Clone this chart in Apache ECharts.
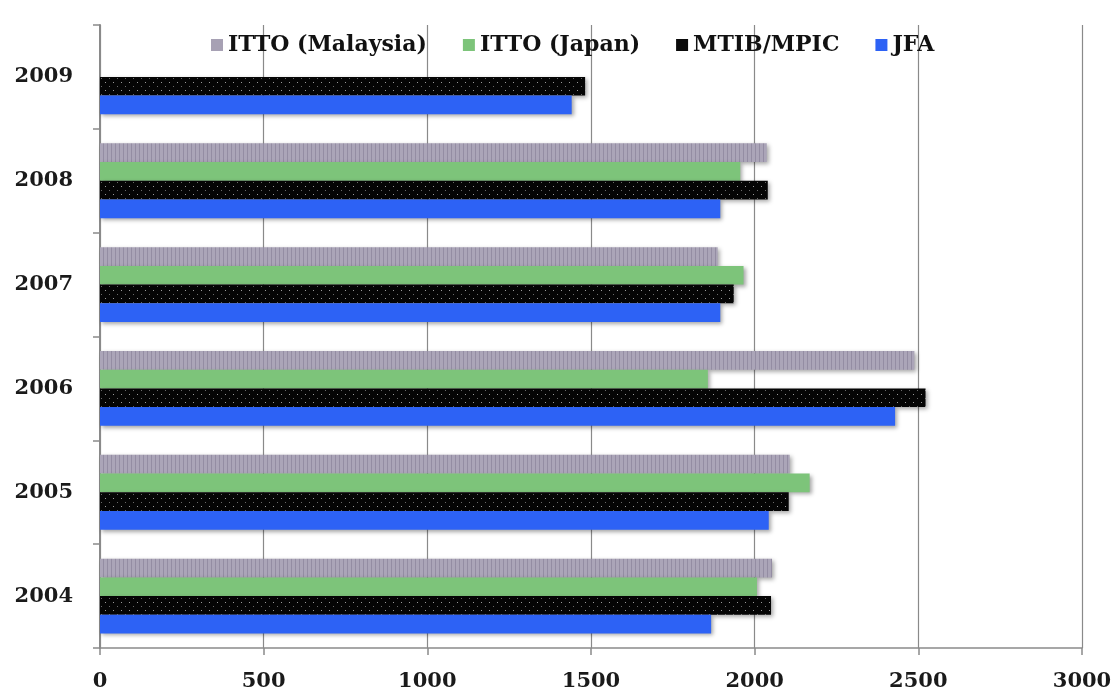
<!DOCTYPE html>
<html>
<head>
<meta charset="utf-8">
<script src="https://cdn.jsdelivr.net/npm/echarts@6/dist/echarts.min.js"></script>
<style>
  html, body { margin: 0; padding: 0; background: #ffffff; }
  #chart { width: 1117px; height: 693px; }
</style>
</head>
<body>
<div id="chart"></div>
<script>
// Annual figures by source (m3 thousand), 2004-2009
const years = ['2004', '2005', '2006', '2007', '2008', '2009'];
const jfa = [1867, 2043, 2429, 1895, 1895, 1441];
const mtibMpic = [2050, 2104, 2522, 1936, 2040, 1482];
const ittoJapan = [2007, 2168, 1857, 1966, 1956, null];
const ittoMalaysia = [2053, 2107, 2488, 1887, 2037, null];
const xTicks = [0, 500, 1000, 1500, 2000, 2500, 3000];

const FONT = 'DejaVu Serif';

// Small repeating textures for the patterned bars
function makePattern(w, h, draw) {
  const c = document.createElement('canvas');
  c.width = w; c.height = h;
  const ctx = c.getContext('2d');
  draw(ctx);
  return { image: c, repeat: 'repeat' };
}
const stripePattern = makePattern(4, 4, ctx => {
  ctx.fillStyle = '#aba5b8';
  ctx.fillRect(0, 0, 4, 4);
  ctx.fillStyle = '#948da3';
  ctx.fillRect(3, 0, 1, 4);
});
const dotPattern = makePattern(8, 8, ctx => {
  ctx.fillStyle = '#050505';
  ctx.fillRect(0, 0, 8, 8);
  ctx.fillStyle = '#9a9a9a';
  ctx.fillRect(1, 2, 1, 1);
  ctx.fillStyle = '#6a6a6a';
  ctx.fillRect(5, 6, 1, 1);
});

const shadow = {
  shadowBlur: 4,
  shadowColor: 'rgba(0,0,0,0.35)',
  shadowOffsetX: 2,
  shadowOffsetY: 2
};

function barSeries(name, data, color) {
  return {
    name: name,
    type: 'bar',
    data: data,
    barGap: '0%',
    barCategoryGap: '28%',
    itemStyle: Object.assign({ color: color }, shadow),
    emphasis: { disabled: true }
  };
}

const plainIcon = color => ({ color: color, shadowBlur: 0, shadowOffsetX: 0, shadowOffsetY: 0 });

const chart = echarts.init(document.getElementById('chart'), null, { renderer: 'canvas' });

chart.setOption({
  animation: false,
  backgroundColor: '#ffffff',
  grid: { left: 100, right: 35, top: 25, bottom: 45, containLabel: false },
  legend: {
    top: 29,
    left: 206,
    itemWidth: 12,
    itemHeight: 12,
    itemGap: 36,
    icon: 'rect',
    textStyle: { fontFamily: FONT, fontWeight: 'bold', fontSize: 22, color: '#111111' },
    data: [
      { name: 'ITTO (Malaysia)', itemStyle: plainIcon('#a7a1b4') },
      { name: 'ITTO (Japan)', itemStyle: plainIcon('#7dc47a') },
      { name: 'MTIB/MPIC', itemStyle: plainIcon('#0a0a0a') },
      { name: 'JFA', itemStyle: plainIcon('#2d62f5') }
    ]
  },
  xAxis: {
    type: 'value',
    min: xTicks[0],
    max: xTicks[xTicks.length - 1],
    interval: xTicks[1] - xTicks[0],
    axisLine: { show: true, lineStyle: { color: '#8a8a8a', width: 1.5 } },
    axisTick: { show: true, length: 7, lineStyle: { color: '#8a8a8a', width: 1.5 } },
    splitLine: { show: true, lineStyle: { color: '#8a8a8a', width: 1.2 } },
    axisLabel: {
      margin: 23,
      formatter: v => String(v),
      fontFamily: FONT, fontWeight: 'bold', fontSize: 21, color: '#1a1a1a'
    }
  },
  yAxis: {
    type: 'category',
    data: years,
    axisLine: { show: true, lineStyle: { color: '#8a8a8a', width: 2 } },
    axisTick: { show: true, length: 7, lineStyle: { color: '#8a8a8a', width: 1.5 } },
    splitLine: { show: false },
    axisLabel: {
      margin: 27,
      fontFamily: FONT, fontWeight: 'bold', fontSize: 21, color: '#1a1a1a'
    }
  },
  // Within each year the first series sits at the top of the group
  series: [
    barSeries('ITTO (Malaysia)', ittoMalaysia, stripePattern),
    barSeries('ITTO (Japan)', ittoJapan, '#7dc47a'),
    barSeries('MTIB/MPIC', mtibMpic, dotPattern),
    barSeries('JFA', jfa, '#2d62f5')
  ]
});
</script>
</body>
</html>
